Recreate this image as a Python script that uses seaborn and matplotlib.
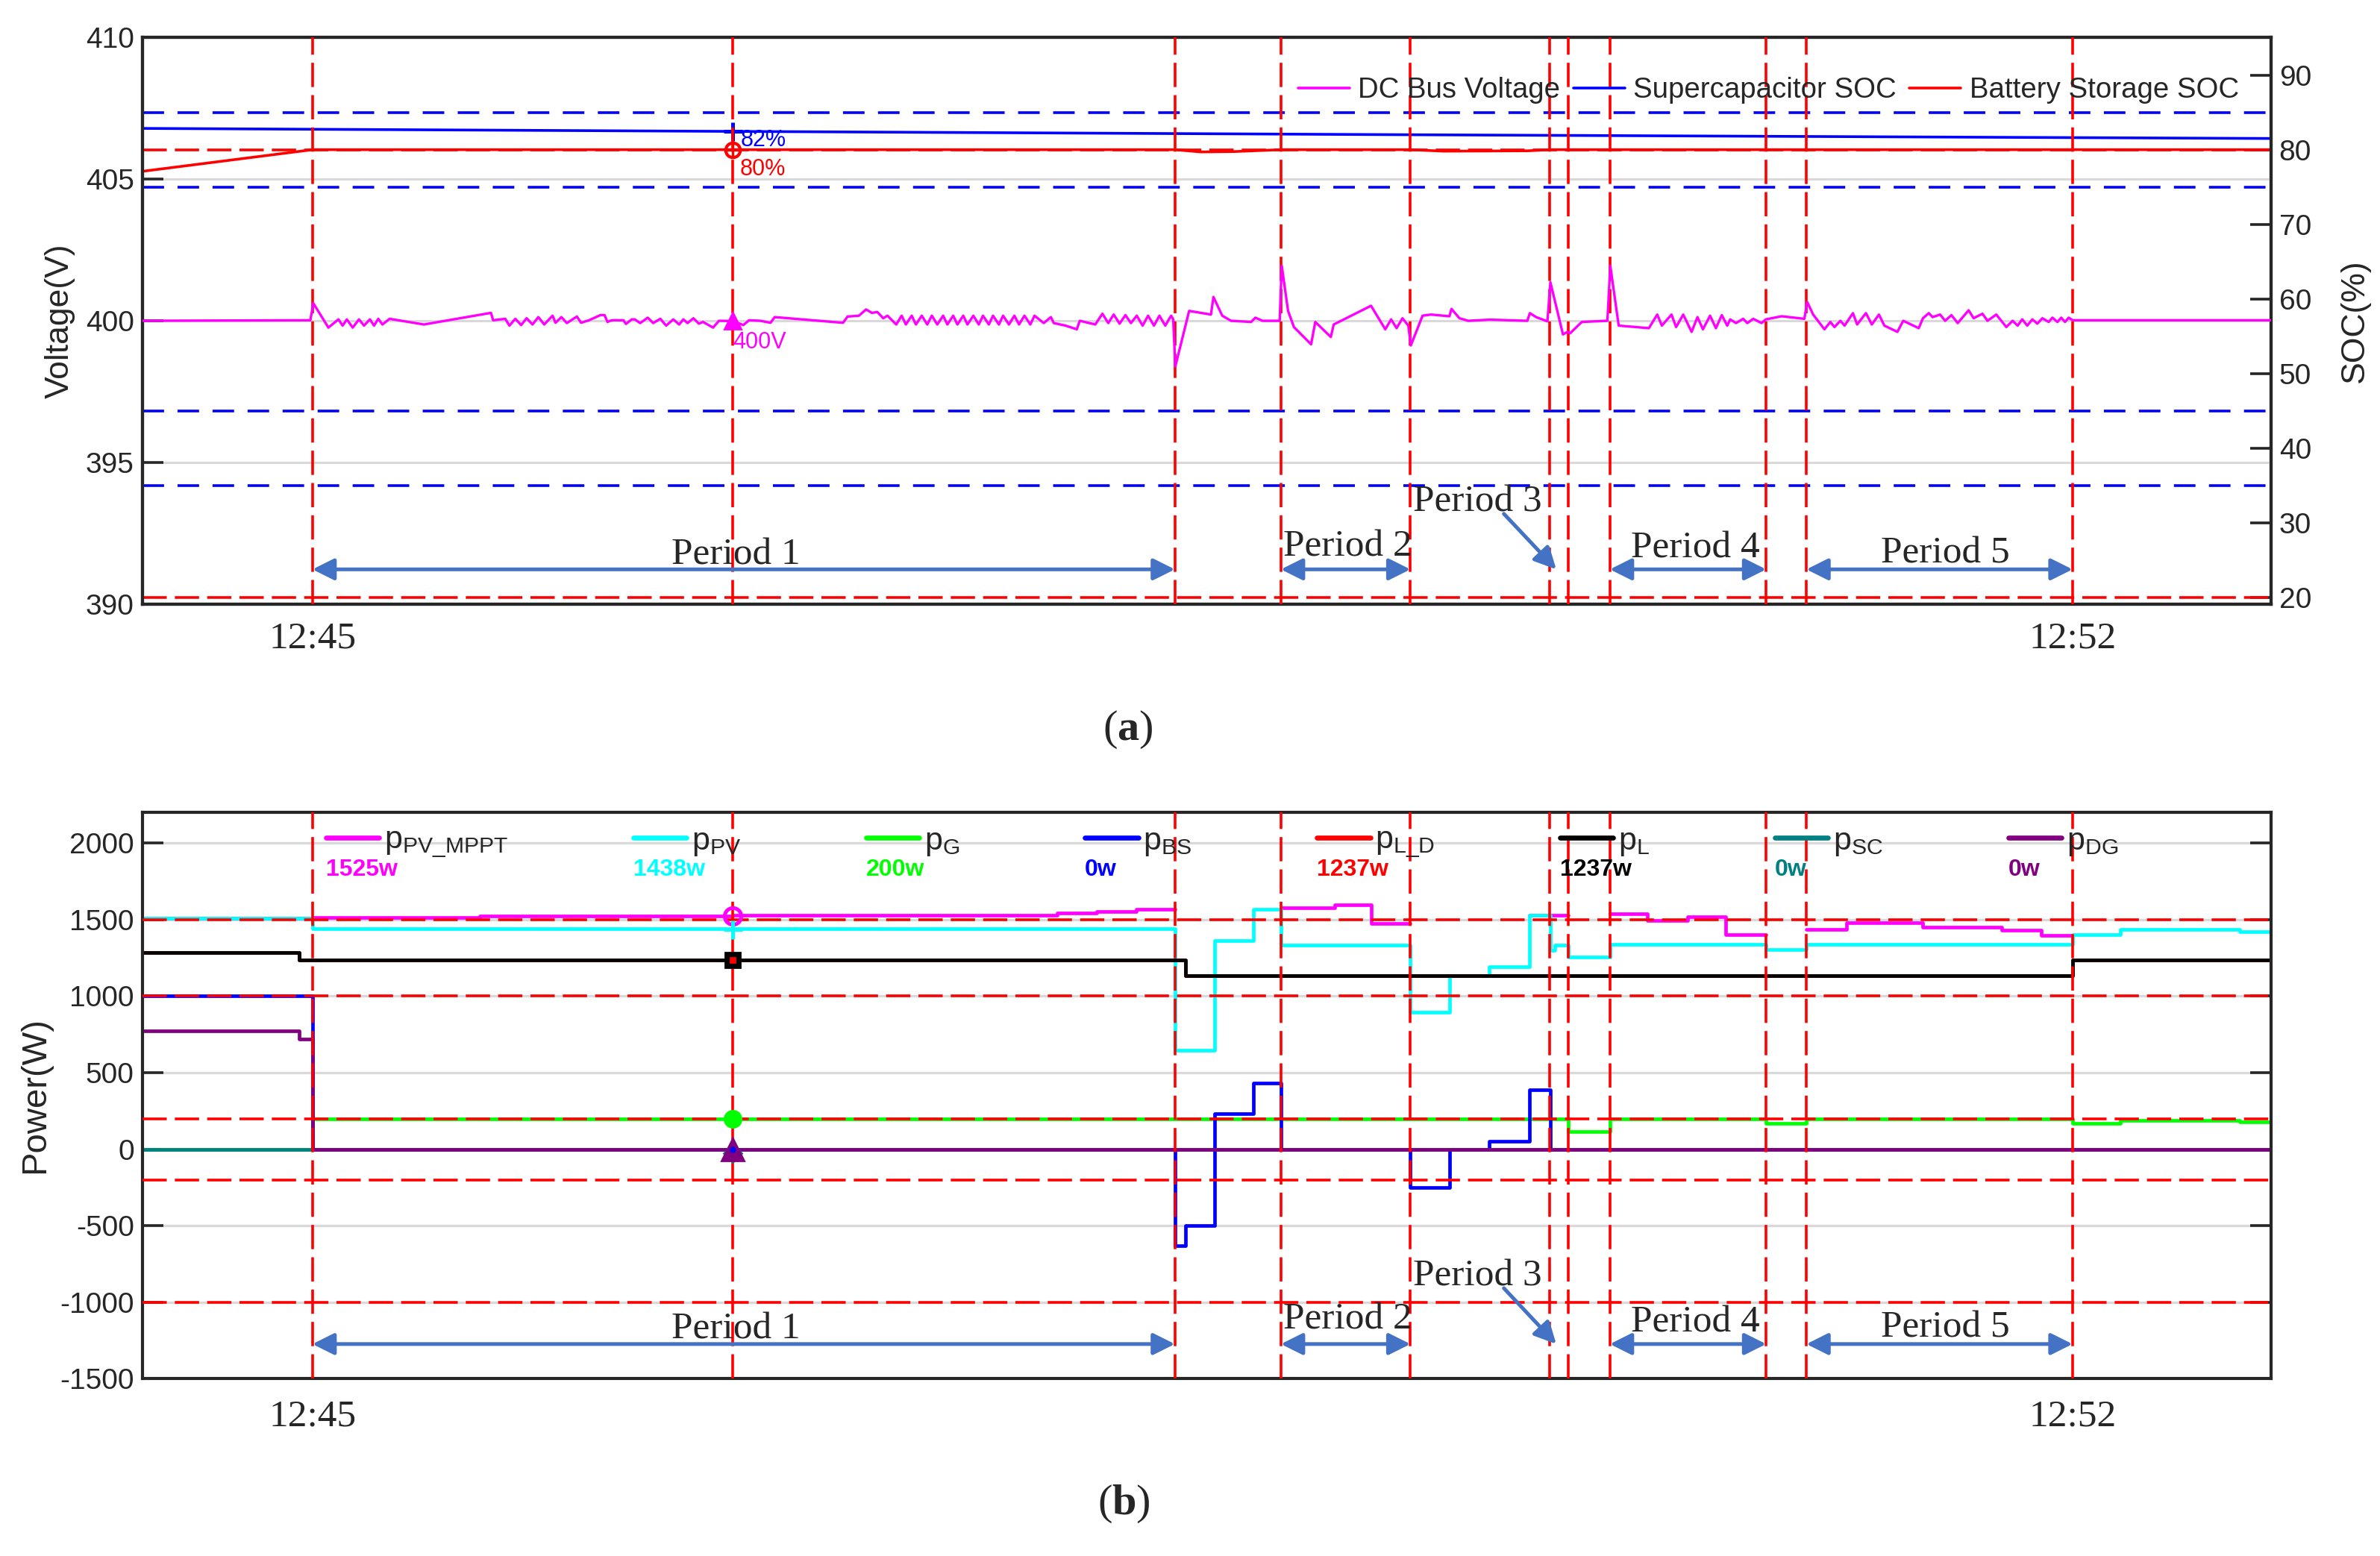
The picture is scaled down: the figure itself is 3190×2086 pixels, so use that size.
import numpy as np
import seaborn as sns
import matplotlib
matplotlib.use("Agg")
from matplotlib import pyplot as plt
from matplotlib.lines import Line2D

# time axis: seconds after 12:45
t_lim = (-40.6, 467.3)
time_ticks = [0, 420]
time_labels = ["12:45", "12:52"]
event_t = [0, 100.3, 205.8, 231.1, 262.0, 295.2, 299.7, 309.6, 346.9, 356.5, 420.0]
cursor_t = 100.3

# (a) DC bus voltage
bus_t = [-40.6, -0.5, 0.2, 3.8, 6.2, 7.2, 8.2, 9.6, 11.1, 12.3, 13.7, 14.7, 15.7, 16.7, 18.4, 26.6,
         42.6, 43.1, 46.0, 47.0, 48.4, 49.8, 51.1, 52.5, 53.9, 55.3, 57.3, 58.0, 59.4, 60.7, 63.1, 64.1,
         66.0, 68.7, 69.7, 70.4, 71.4, 74.2, 74.8, 76.2, 76.9, 78.2, 80.0, 81.3, 83.0, 84.4, 86.1, 87.5,
         88.5, 89.5, 90.9, 92.2, 93.2, 95.6, 97.0, 100.4, 102.8, 104.2, 106.9, 109.3, 110.3, 126.6, 127.7, 130.4,
         132.1, 133.5, 134.8, 136.2, 137.2, 139.3, 140.6, 141.6, 143.0, 144.0, 145.4, 146.7, 147.8, 149.1, 150.5, 151.5,
         152.9, 153.9, 155.3, 156.3, 157.7, 159.0, 160.0, 161.4, 162.4, 163.8, 164.8, 166.2, 167.5, 168.6, 169.9, 171.3,
         172.3, 174.5, 176.2, 176.9, 179.7, 182.4, 183.1, 186.8, 188.5, 189.9, 191.2, 192.6, 194.0, 195.3, 196.7, 198.1,
         199.4, 200.8, 202.1, 203.5, 204.9, 205.4, 205.9, 209.2, 214.4, 215.0, 217.1, 219.2, 224.0, 225.0, 226.7, 230.8,
         231.3, 232.8, 234.2, 238.3, 239.3, 243.0, 243.7, 252.6, 256.0, 257.4, 258.7, 260.1, 261.5, 262.1, 264.9, 266.9,
         271.3, 271.8, 273.7, 275.8, 281.0, 289.9, 290.5, 292.0, 294.7, 295.4, 298.4, 299.5, 300.1, 302.9, 309.0, 309.7,
         311.7, 318.9, 320.9, 322.0, 324.3, 325.4, 327.1, 329.1, 330.5, 331.8, 333.5, 334.9, 336.3, 337.6, 338.3, 339.7,
         341.4, 342.4, 343.8, 345.8, 346.8, 350.6, 356.0, 356.7, 358.1, 360.8, 362.2, 363.2, 364.6, 365.6, 367.6, 368.6,
         370.7, 372.1, 373.8, 375.1, 378.2, 379.6, 383.3, 384.3, 385.7, 386.6, 388.4, 389.6, 391.1, 392.6, 395.2, 396.4,
         398.5, 399.7, 401.8, 403.0, 404.2, 405.7, 406.9, 408.0, 409.2, 410.4, 411.6, 412.8, 414.3, 415.2, 416.4, 417.3,
         418.2, 419.1, 420.0, 467.3]
bus_v = [400.01, 400.03, 400.63, 399.77, 400.06, 399.84, 400.06, 399.77, 400.06, 399.84, 400.06, 399.84, 400.08, 399.88, 400.08, 399.88,
         400.29, 400.03, 400.08, 399.84, 400.08, 399.86, 400.10, 399.88, 400.14, 399.88, 400.19, 399.94, 400.14, 399.93, 400.16, 399.94,
         400.03, 400.21, 400.21, 399.97, 400.03, 400.03, 399.90, 400.06, 400.06, 399.93, 400.12, 399.93, 400.08, 399.84, 400.06, 399.88,
         400.06, 399.93, 400.10, 399.91, 399.97, 399.77, 400.01, 400.00, 399.86, 400.03, 400.01, 399.94, 400.14, 399.94, 400.16, 400.19,
         400.41, 400.29, 400.32, 400.10, 400.19, 399.88, 400.19, 399.88, 400.19, 399.88, 400.19, 399.88, 400.19, 399.88, 400.19, 399.88,
         400.19, 399.88, 400.19, 399.88, 400.19, 399.88, 400.19, 399.88, 400.19, 399.88, 400.19, 399.88, 400.19, 399.88, 400.19, 399.88,
         400.19, 399.93, 400.14, 399.93, 399.84, 399.71, 400.01, 399.88, 400.26, 399.93, 400.23, 399.91, 400.21, 399.93, 400.19, 399.84,
         400.19, 399.84, 400.19, 399.84, 400.19, 400.06, 398.40, 400.36, 400.23, 400.85, 400.19, 400.01, 399.97, 400.12, 400.01, 400.01,
         401.95, 400.36, 399.79, 399.18, 399.97, 399.44, 399.88, 400.54, 399.71, 400.06, 399.75, 400.10, 399.84, 399.14, 400.19, 400.23,
         400.17, 400.43, 400.10, 400.01, 400.05, 400.01, 400.28, 400.14, 399.99, 401.37, 399.53, 399.62, 399.57, 399.97, 400.01, 401.95,
         399.84, 399.75, 400.23, 399.84, 400.23, 399.79, 400.23, 399.62, 400.14, 399.71, 400.19, 399.75, 400.21, 399.84, 400.06, 399.93,
         400.08, 399.93, 400.08, 399.93, 400.06, 400.17, 400.08, 400.67, 400.23, 399.71, 399.97, 399.79, 400.01, 399.84, 400.28, 399.88,
         400.28, 399.88, 400.23, 399.84, 399.62, 400.01, 399.75, 400.10, 400.28, 400.14, 400.23, 400.01, 400.21, 399.93, 400.38, 400.10,
         400.26, 400.01, 400.23, 400.01, 399.79, 400.01, 399.84, 400.06, 399.84, 400.06, 399.91, 400.10, 399.97, 400.12, 399.97, 400.12,
         399.97, 400.12, 400.03, 400.03]

# (a) state of charge
sc_t = [-40.6, 100.3, 262.0, 467.3]
sc_soc = [82.85, 82.45, 82.0, 81.5]
bs_t = [-40.6, 0, 205.8, 212.0, 220.0, 231.1, 262.0, 270.0, 290.0, 295.2, 467.3]
bs_soc = [77.1, 80.0, 80.0, 79.7, 79.75, 80.0, 80.0, 79.8, 79.85, 80.0, 80.0]
soc_blue_limits = [85, 75, 45, 35]
soc_red_limits = [80, 20]

# (b) power flows (step signals)
mppt_t = [-40.6, 0, 40, 100.3, 177.7, 187.1, 196.5, 205.8, 231.1, 243.9, 252.7, 262.0, 290.4, 299.7,
          309.6, 318.6, 328.1, 337.3, 346.9, 356.5, 366.0, 384.2, 403.1, 412.6, 420.0, 467.3]
mppt_p = [1510, 1515, 1522, 1527, 1541, 1554, 1568, np.nan, 1578, 1595, 1477, np.nan, 1528, np.nan,
          1538, 1494, 1521, 1403, np.nan, 1436, 1480, 1453, 1433, 1399, np.nan, np.nan]
pv_t = [-40.6, 0, 205.8, 215.2, 224.6, 231.1, 262.0, 271.4, 280.8, 290.4, 295.4, 296.5, 299.7,
        309.6, 346.9, 356.5, 420.0, 431.5, 459.9, 467.3]
pv_p = [1510, 1440, 647, 1365, 1568, 1335, 893, 1133, 1190, 1527, 1300, 1335, 1258,
        1340, 1305, 1340, 1403, 1436, 1420, 1420]
load_t = [-40.6, -3.1, 208.3, 420.0, 467.3]
load_p = [1284, 1237, 1136, 1237, 1237]
grid_t = [-40.6, 0, 299.7, 309.6, 346.9, 356.5, 420.0, 431.5, 459.9, 467.3]
grid_p = [0, 200, 115, 200, 170, 200, 168, 188, 178, 178]
bat_t = [-40.6, 0, 205.8, 208.3, 215.2, 224.6, 231.1, 262.0, 271.4, 280.8, 290.4, 295.4, 467.3]
bat_p = [1000, 0, -633, -498, 231, 434, 0, -251, 0, 53, 390, 0, 0]
sc_pt = [-40.6, 467.3]
sc_p = [0, 0]
dg_t = [-40.6, -3.1, 0, 467.3]
dg_p = [775, 718, 0, 0]
power_limits = [1500, 1000, 200, -200, -1000]

names = [r"$\mathrm{p}_{\mathrm{PV\_MPPT}}$", r"$\mathrm{p}_{\mathrm{PV}}$", r"$\mathrm{p}_{\mathrm{G}}$",
         r"$\mathrm{p}_{\mathrm{BS}}$", r"$\mathrm{p}_{\mathrm{L\_D}}$", r"$\mathrm{p}_{\mathrm{L}}$",
         r"$\mathrm{p}_{\mathrm{SC}}$", r"$\mathrm{p}_{\mathrm{DG}}$"]
readouts = [1525, 1438, 200, 0, 1237, 1237, 0, 0]
colors = ["#ff00ff", "#00ffff", "#00ff00", "#0000ff", "#ff0000", "#000000", "#008080", "#800080"]

# periods
period_names = ["Period 1", "Period 2", "Period 4", "Period 5"]
period_span = [(0, 205.8), (231.1, 262.0), (309.6, 346.9), (356.5, 420.0)]
period_text_x = [101, 247, 330, 389.7]
p3_text_x = 278.0
p3_arrow_t = (284.3, 296.8)

sns.set_theme(style="white")
plt.rcParams["font.family"] = ["Liberation Sans", "DejaVu Sans"]
plt.rcParams["axes.unicode_minus"] = False
plt.rcParams["mathtext.fontset"] = "custom"
plt.rcParams["mathtext.rm"] = "Liberation Sans"
plt.rcParams["mathtext.it"] = "Liberation Sans"
plt.rcParams["mathtext.bf"] = "Liberation Serif:bold"

frame = "#262626"
arrow_c = "#4472c4"
serif = "Liberation Serif"
red_dash = (0, (9, 3))
blue_dash = (0, (8, 5))

fig = plt.figure(figsize=(15.95, 10.43), dpi=200)
ax_v = fig.add_axes([0.0598, 0.6115, 0.8943, 0.3643])
ax_s = ax_v.twinx()
ax_v.set_zorder(ax_s.get_zorder() + 1)
ax_v.patch.set_visible(False)
ax_p = fig.add_axes([0.0598, 0.1140, 0.8943, 0.3641])

# ---------- (a) ----------
sns.lineplot(x=sc_t, y=sc_soc, ax=ax_s, color="blue", lw=1.3, estimator=None, sort=False, zorder=2)
sns.lineplot(x=bs_t, y=bs_soc, ax=ax_s, color="red", lw=1.3, estimator=None, sort=False, zorder=2)
for s in soc_blue_limits:
    ax_s.axhline(s, color="blue", lw=1.3, ls=blue_dash, zorder=3)
for s in soc_red_limits:
    ax_s.axhline(s, color="red", lw=1.3, ls=red_dash, zorder=3)
sc_now = np.interp(cursor_t, sc_t, sc_soc)
bs_now = np.interp(cursor_t, bs_t, bs_soc)
ax_s.plot(cursor_t, sc_now, "+", color="blue", ms=9, mew=1.8, zorder=5)
ax_s.plot(cursor_t, bs_now, "o", mfc="none", mec="red", ms=7, mew=1.5, zorder=5)
ax_s.plot(cursor_t, bs_now, "+", color="red", ms=7, mew=1.2, zorder=5)
ax_s.text(cursor_t + 1.8, sc_now - 1.2, "82%", color="blue", fontsize=11, va="center", ha="left")
ax_s.text(cursor_t + 1.6, bs_now - 2.6, "80%", color="red", fontsize=11, va="center", ha="left")
ax_s.set_ylim(19.1, 95.0)
ax_s.set_yticks([20, 30, 40, 50, 60, 70, 80, 90])
ax_s.set_ylabel("SOC(%)", fontsize=16, color=frame)
ax_s.yaxis.set_label_coords(1.0324, 0.5)
ax_s.tick_params(axis="y", right=True, direction="in", length=10, width=1.3, labelsize=14,
                 colors=frame, pad=4)
ax_s.tick_params(axis="x", bottom=False, labelbottom=False)

ax_v.yaxis.grid(True, color="#d9d9d9", lw=1.1)
for t in event_t:
    ax_v.axvline(t, color="red", lw=1.3, ls=red_dash, zorder=3)
sns.lineplot(x=bus_t, y=bus_v, ax=ax_v, color="#ff00ff", lw=1.2, estimator=None, sort=False, zorder=4)
v_now = np.interp(cursor_t, bus_t, bus_v)
ax_v.plot(cursor_t, v_now, "^", color="#ff00ff", ms=8, zorder=5)
ax_v.text(cursor_t + 0.1, v_now - 0.76, "400V", color="#ff00ff", fontsize=11, va="center", ha="left")
ax_v.set_xlim(*t_lim)
ax_v.set_ylim(390, 410)
ax_v.set_yticks([390, 395, 400, 405, 410])
ax_v.set_ylabel("Voltage(V)", fontsize=16, color=frame)
ax_v.yaxis.set_label_coords(-0.0314, 0.5)
ax_v.tick_params(axis="y", left=True, direction="in", length=10, width=1.3, labelsize=14,
                 colors=frame, pad=4)

for name, (a, b), tx in zip(period_names, period_span, period_text_x):
    ax_v.annotate("", xy=(b, 391.24), xytext=(a, 391.24),
                  arrowprops=dict(arrowstyle="<|-|>", color=arrow_c, lw=1.8, mutation_scale=22,
                                  shrinkA=0, shrinkB=0), zorder=6)
top_base = [391.42, 391.7, 391.65, 391.46]
for name, tx, yb in zip(period_names, period_text_x, top_base):
    ax_v.text(tx, yb, name, family=serif, fontsize=18.5, ha="center", va="baseline", zorder=7)
ax_v.text(p3_text_x, 393.3, "Period 3", family=serif, fontsize=18.5, ha="center", va="baseline", zorder=7)
ax_v.annotate("", xy=(p3_arrow_t[1], 391.24), xytext=(p3_arrow_t[0], 393.2),
              arrowprops=dict(arrowstyle="-|>", color=arrow_c, lw=1.8, mutation_scale=22,
                              shrinkA=0, shrinkB=0), zorder=6)

leg_a = ax_v.legend(handles=[Line2D([], [], color="#ff00ff", lw=1.3),
                             Line2D([], [], color="blue", lw=1.3),
                             Line2D([], [], color="red", lw=1.3)],
                    labels=["DC Bus Voltage", "Supercapacitor SOC", "Battery Storage SOC"],
                    loc="center right", bbox_to_anchor=(0.985, 0.907), ncol=3, frameon=False,
                    fontsize=13.8, handlelength=1.8, handletextpad=0.3, columnspacing=0.45,
                    borderpad=0, borderaxespad=0)
for txt in leg_a.get_texts():
    txt.set_color(frame)

ax_v.set_xticks(time_ticks)
ax_v.set_xticklabels(time_labels)
ax_v.tick_params(axis="x", bottom=True, length=0, pad=8)
for lab in ax_v.get_xticklabels():
    lab.set_fontfamily(serif)
    lab.set_fontsize(18.5)

# ---------- (b) ----------
ax_p.yaxis.grid(True, color="#d9d9d9", lw=1.2)
ax_p.plot(mppt_t, mppt_p, color=colors[0], lw=1.7, drawstyle="steps-post", zorder=2)
series = [(pv_t, pv_p, colors[1]), (load_t, load_p, colors[4]), (load_t, load_p, colors[5]),
          (grid_t, grid_p, colors[2]), (bat_t, bat_p, colors[3]), (sc_pt, sc_p, colors[6]),
          (dg_t, dg_p, colors[7])]
for t, p, c in series:
    sns.lineplot(x=t, y=p, ax=ax_p, color=c, lw=1.7, drawstyle="steps-post",
                 estimator=None, sort=False, zorder=2)
for lvl in power_limits:
    ax_p.axhline(lvl, color="red", lw=1.3, ls=red_dash, zorder=3)
for t in event_t:
    ax_p.axvline(t, color="red", lw=1.3, ls=red_dash, zorder=3)

ax_p.plot(cursor_t, readouts[0], "o", mfc="none", mec=colors[0], ms=8, mew=1.8, zorder=5)
ax_p.plot(cursor_t, readouts[1], "+", color=colors[1], ms=9, mew=1.8, zorder=5)
ax_p.plot(cursor_t, readouts[5], "s", color="black", ms=7, zorder=5)
ax_p.plot(cursor_t, readouts[4], "s", color="red", ms=2.5, zorder=6)
ax_p.plot(cursor_t, readouts[2], "o", color=colors[2], ms=8, zorder=5)
ax_p.plot(cursor_t, readouts[6] - 25, "D", color=colors[6], ms=6, zorder=5)
ax_p.plot(cursor_t, readouts[7], "^", color=colors[7], ms=11, zorder=6)
ax_p.plot(cursor_t, readouts[3], ".", color=colors[3], ms=4, zorder=7)

ax_p.set_xlim(*t_lim)
ax_p.set_ylim(-1500, 2203)
ax_p.set_yticks([-1500, -1000, -500, 0, 500, 1000, 1500, 2000])
ax_p.set_ylabel("Power(W)", fontsize=17, color=frame)
ax_p.yaxis.set_label_coords(-0.0425, 0.5)
ax_p.tick_params(axis="y", left=True, right=True, direction="in", length=10, width=1.3,
                 labelsize=14, colors=frame, pad=4)
ax_p.set_xticks(time_ticks)
ax_p.set_xticklabels(time_labels)
ax_p.tick_params(axis="x", bottom=True, length=0, pad=10)
for lab in ax_p.get_xticklabels():
    lab.set_fontfamily(serif)
    lab.set_fontsize(18.5)

for name, (a, b), tx in zip(period_names, period_span, period_text_x):
    ax_p.annotate("", xy=(b, -1274), xytext=(a, -1274),
                  arrowprops=dict(arrowstyle="<|-|>", color=arrow_c, lw=1.8, mutation_scale=22,
                                  shrinkA=0, shrinkB=0), zorder=6)
bot_base = [-1240, -1176, -1196, -1230]
for name, tx, yb in zip(period_names, period_text_x, bot_base):
    ax_p.text(tx, yb, name, family=serif, fontsize=18.5, ha="center", va="baseline", zorder=7)
ax_p.text(p3_text_x, -892, "Period 3", family=serif, fontsize=18.5, ha="center", va="baseline", zorder=7)
ax_p.annotate("", xy=(p3_arrow_t[1], -1274), xytext=(p3_arrow_t[0], -909),
              arrowprops=dict(arrowstyle="-|>", color=arrow_c, lw=1.8, mutation_scale=22,
                              shrinkA=0, shrinkB=0), zorder=6)

leg_b = ax_p.legend(handles=[Line2D([], [], color=c, lw=2.4) for c in colors], labels=names,
                    loc="center left", bbox_to_anchor=(0.0862, 0.945), ncol=8, frameon=False,
                    fontsize=15.5, handlelength=1.66, handletextpad=0.15, columnspacing=3.9,
                    borderpad=0, borderaxespad=0)

for ax in (ax_v, ax_s, ax_p):
    for sp in ax.spines.values():
        sp.set_color(frame)
        sp.set_linewidth(1.5)

fig.text(0.474, 0.531, r"($\mathbf{a}$)", family=serif, fontsize=21, ha="center", va="center")
fig.text(0.4723, 0.0336, r"($\mathbf{b}$)", family=serif, fontsize=21, ha="center", va="center")

# readout values under each legend handle
fig.canvas.draw()
rend = fig.canvas.get_renderer()
inv = ax_p.transAxes.inverted()
for line, val, c in zip(leg_b.get_lines(), readouts, colors):
    bb = line.get_window_extent(rend)
    x, y = inv.transform((bb.x0, 0.5 * (bb.y0 + bb.y1)))
    ax_p.text(x, y - 0.036, f"{val}w", transform=ax_p.transAxes, color=c, fontsize=11.5,
              fontweight="bold", ha="left", va="top")

fig.savefig("out.png", dpi=200)
